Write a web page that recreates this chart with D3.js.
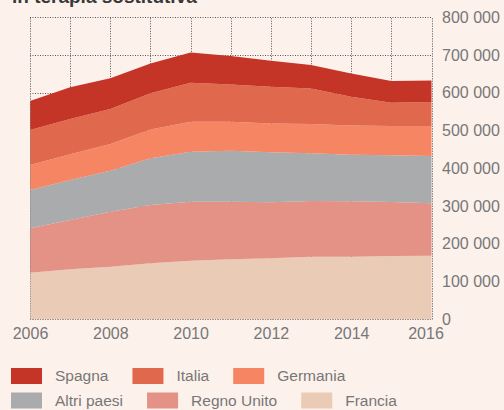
<!DOCTYPE html>
<html>
<head>
<meta charset="utf-8">
<script src="https://cdn.jsdelivr.net/npm/d3@7"></script>
<style>
  html, body { margin: 0; padding: 0; background: #fdf1ec; }
  svg { display: block; }
  text { font-family: "Liberation Sans", Arial, sans-serif; }
</style>
</head>
<body>
<div id="chart"></div>
<script>
// Pazienti in terapia sostitutiva per paese, 2006-2016
const years = [2006, 2007, 2008, 2009, 2010, 2011, 2012, 2013, 2014, 2015, 2016];
const francia    = [123600, 132400, 139500, 148300, 155400, 159300, 161500, 166000, 166000, 167700, 168600];
const regnoUnito = [117400, 130600, 145600, 154500, 156200, 152300, 148300, 147400, 146500, 143000, 138600];
const altriPaesi = [101500, 106000, 108700, 123500, 132400, 135000, 132400, 126200, 123500, 123600, 125300];
const germania   = [ 66200,  68000,  70600,  76700,  79400,  76800,  76800,  77700,  77700,  77700,  79500];
const italia     = [ 92700,  93500,  92700,  95500, 103300,  98900,  97100,  94400,  75900,  61800,  63500];
const spagna     = [ 76800,  83900,  81200,  79400,  80300,  75000,  68900,  61800,  61800,  57300,  57400];

// Stack order, bottom to top
const seriesNames = ["Francia", "Regno Unito", "Altri paesi", "Germania", "Italia", "Spagna"];
const seriesValues = [francia, regnoUnito, altriPaesi, germania, italia, spagna];
const seriesColors = ["#e9cbb6", "#e39285", "#aaabad", "#f58563", "#e0684c", "#c43427"];

const yTicks = [0, 100000, 200000, 300000, 400000, 500000, 600000, 700000, 800000];
const xTickYears = [2006, 2008, 2010, 2012, 2014, 2016];

// Legend layout: two rows, in reading order
const legendRows = [["Spagna", "Italia", "Germania"], ["Altri paesi", "Regno Unito", "Francia"]];

const W = 504, H = 410;
const svg = d3.select("#chart").append("svg").attr("width", W).attr("height", H);
svg.append("rect").attr("width", W).attr("height", H).attr("fill", "#fdf1ec");

const x = d3.scaleLinear().domain([2006, 2016]).range([30, 431.5]);
const y = d3.scaleLinear().domain([0, 800000]).range([319.3, 17.3]);

// Title (its first line sits above the visible frame)
svg.append("text").attr("x", 12).attr("y", 3)
  .attr("font-size", 19).attr("font-weight", "bold").attr("fill", "#383838")
  .text("in terapia sostitutiva");

// Grid
const grid = svg.append("g").attr("stroke", "#555").attr("stroke-width", 1)
  .attr("stroke-dasharray", "1,1.5").attr("fill", "none");
grid.selectAll("line.h").data(yTicks).join("line").attr("class", "h")
  .attr("x1", x(2006)).attr("x2", x(2016))
  .attr("y1", d => Math.round(y(d)) + 0.5).attr("y2", d => Math.round(y(d)) + 0.5);
grid.selectAll("line.v").data(years).join("line").attr("class", "v")
  .attr("x1", d => Math.round(x(d)) + 0.5).attr("x2", d => Math.round(x(d)) + 0.5)
  .attr("y1", y(0)).attr("y2", y(800000));

// Stacked areas
const table = years.map((yr, i) => {
  const row = { year: yr };
  seriesNames.forEach((n, k) => { row[n] = seriesValues[k][i]; });
  return row;
});
const stacked = d3.stack().keys(seriesNames)(table);
const area = d3.area()
  .x(d => x(d.data.year))
  .y0(d => y(d[0]))
  .y1(d => y(d[1]));
svg.append("g").selectAll("path").data(stacked).join("path")
  .attr("d", area)
  .attr("fill", (d, i) => seriesColors[i]);

// Frame on top of the areas
const frame = svg.append("g").attr("stroke", "#8a8a8a").attr("stroke-width", 1)
  .attr("stroke-dasharray", "1,1.5").attr("fill", "none");
frame.append("line").attr("x1", Math.round(x(2006)) + 0.5).attr("x2", Math.round(x(2006)) + 0.5)
  .attr("y1", y(0)).attr("y2", y(800000));
frame.append("line").attr("x1", Math.round(x(2016)) + 0.5).attr("x2", Math.round(x(2016)) + 0.5)
  .attr("y1", y(0)).attr("y2", y(800000));
frame.append("line").attr("x1", x(2006)).attr("x2", x(2016))
  .attr("y1", Math.round(y(0)) + 0.5).attr("y2", Math.round(y(0)) + 0.5);

// Y axis on the right
const fmt = v => d3.format(",")(v).replace(/,/g, " ");
const yAxis = d3.axisRight(y).tickValues(yTicks).tickFormat(fmt).tickSize(0).tickPadding(0);
const gy = svg.append("g").attr("transform", "translate(442,0)").call(yAxis);
gy.select(".domain").remove();
gy.selectAll("text").attr("font-size", 16).attr("fill", "#777")
  .attr("font-family", "Liberation Sans, Arial, sans-serif");

// X axis
const xAxis = d3.axisBottom(x).tickValues(xTickYears).tickFormat(d3.format("d")).tickSize(0).tickPadding(0);
const gx = svg.append("g").attr("transform", "translate(0,328)").call(xAxis);
gx.select(".domain").remove();
gx.selectAll("text").attr("font-size", 16).attr("fill", "#777")
  .attr("font-family", "Liberation Sans, Arial, sans-serif");
// keep the last year label clear of the "0" on the right axis
gx.selectAll(".tick").filter(d => d === 2016).select("text").attr("dx", -6);

// Legend
const colorOf = d3.scaleOrdinal().domain(seriesNames).range(seriesColors);
const rowY = [368, 392.5];
const legend = svg.append("g");
legendRows.forEach((row, r) => {
  let cx = 11;
  row.forEach(name => {
    const g = legend.append("g").attr("transform", `translate(${cx},${rowY[r]})`);
    g.append("rect").attr("width", 31).attr("height", 16).attr("fill", colorOf(name));
    const t = g.append("text").attr("x", 44).attr("y", 8).attr("dy", "0.35em")
      .attr("font-size", 15.5).attr("fill", "#777").text(name);
    const w = t.node().getComputedTextLength();
    cx += 44 + w + 24;
  });
});
</script>
</body>
</html>
